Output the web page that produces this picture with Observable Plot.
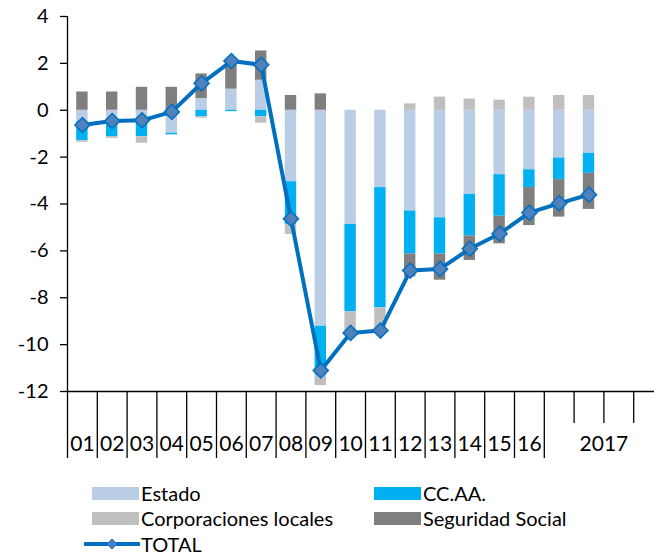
<!DOCTYPE html>
<html>
<head>
<meta charset="utf-8">
<script src="https://cdn.jsdelivr.net/npm/d3@7"></script>
<script src="https://cdn.jsdelivr.net/npm/@observablehq/plot@0.6"></script>
<style>
  body { margin: 0; background: #fff; font-family: Lato, sans-serif; }
  #wrap { position: relative; width: 654px; height: 556px; overflow: hidden; }
  #legend { position: absolute; left: 0; top: 0; width: 654px; height: 556px; pointer-events: none; }
  .item { position: absolute; display: flex; align-items: center; font-size: 20px; color: #000; height: 24px; white-space: nowrap; }
  .sw { display: inline-block; width: 47px; height: 13px; margin-right: 2px; }
</style>
</head>
<body>
<div id="wrap"><div id="chart"></div><div id="legend"></div></div>
<script>
// ---- data ----
const periods = ["2001","2002","2003","2004","2005","2006","2007","2008","2009","2010","2011","2012","2013","2014","2015","2016","2017-I","2017-II"];
const estado      = [-0.50,-0.50,-0.45,-0.98, 0.50, 0.90, 1.28,-3.05,-9.22,-4.87,-3.30,-4.30,-4.59,-3.59,-2.75,-2.54,-2.04,-1.84];
const ccaa        = [-0.80,-0.64,-0.68,-0.07,-0.28,-0.06,-0.28,-1.82,-2.08,-3.73,-5.13,-1.83,-1.54,-1.78,-1.77,-0.76,-0.92,-0.85];
const corpLocales = [-0.07,-0.06,-0.28, 0.00,-0.06, 0.00,-0.27,-0.43,-0.45,-0.90,-0.97, 0.27, 0.56, 0.48, 0.43, 0.56, 0.63, 0.63];
const segSocial   = [ 0.78, 0.78, 0.98, 0.98, 1.05, 1.21, 1.25, 0.63, 0.70, 0.00, 0.00,-0.98,-1.12,-1.04,-1.18,-1.62,-1.60,-1.54];
const total       = [-0.63,-0.46,-0.43,-0.07, 1.15, 2.10, 1.94,-4.63,-11.10,-9.50,-9.40,-6.84,-6.77,-5.91,-5.27,-4.37,-3.97,-3.60];

const seriesNames  = ["Estado","CC.AA.","Corporaciones locales","Seguridad Social"];
const seriesColors = ["#B9CDE5","#00B0F0","#BFBFBF","#7F7F7F"];
const lineColor = "#0070C0";
const markerFill = "#4F81BD";

// x-axis labels: text, first slot, number of slots
const xLabelText  = ["01","02","03","04","05","06","07","08","09","10","11","12","13","14","15","16","2017"];
const xLabelStart = [0,1,2,3,4,5,6,7,8,9,10,11,12,13,14,15,16];
const xLabelSpan  = [1,1,1,1,1,1,1,1,1,1,1,1,1,1,1,1,4];
const yearSeparators = [1,2,3,4,5,6,7,8,9,10,11,12,13,14,15,16];
const quarterTicks = [17,18,19];
const yTicks = [4,2,0,-2,-4,-6,-8,-10,-12];

// ---- build long table ----
const seriesValues = [estado, ccaa, corpLocales, segSocial];
const long = [];
periods.forEach((p, i) => {
  seriesNames.forEach((s, k) => long.push({period: p, i, series: s, value: seriesValues[k][i]}));
});
const totals = total.map((v, i) => ({period: periods[i], i, value: v}));
const xLabels = xLabelText.map((t, k) => ({text: t, start: xLabelStart[k], span: xLabelSpan[k]}));

const chart = Plot.plot({
  width: 654,
  height: 466,
  marginLeft: 67,
  marginRight: 0,
  marginTop: 16,
  marginBottom: 75,
  style: {fontFamily: "Lato, sans-serif", background: "transparent", color: "#000"},
  x: {type: "linear", domain: [0, 20], range: [67, 663], axis: null},
  y: {domain: [-12, 4], label: null},
  color: {domain: seriesNames, range: seriesColors},
  marks: [
    Plot.rectY(long, {x1: d => d.i, x2: d => d.i + 1, y: "value", fill: "series", insetLeft: 9.2, insetRight: 9.2}),
    Plot.axisY({ticks: yTicks, tickFormat: d => String(d), tickSize: 7, tickPadding: 12, fontSize: 20, strokeWidth: 1.3, label: null}),
    Plot.ruleX([0], {y1: 4, y2: -12, strokeWidth: 1.3}),
    Plot.ruleX([0], {y1: -12, y2: -12, insetBottom: -67, strokeWidth: 1.3}),
    Plot.ruleX(yearSeparators, {x: d => d, y1: -12, y2: -12, insetBottom: -67, strokeWidth: 1.3}),
    Plot.ruleX(quarterTicks, {x: d => d, y1: -12, y2: -12, insetBottom: -32, strokeWidth: 1.3}),
    Plot.ruleY([-12], {strokeWidth: 1.3}),
    Plot.text(xLabels, {x: d => d.start + d.span / 2, y: -12, dy: 53, text: "text", fontSize: 21, fill: "#000"}),
    Plot.line(totals, {x: d => d.i + 0.5, y: "value", stroke: lineColor, strokeWidth: 4}),
    Plot.dot(totals, {x: d => d.i + 0.5, y: "value", symbol: "diamond2", r: 6.8, fill: markerFill, stroke: lineColor, strokeWidth: 1.5})
  ]
});
document.getElementById("chart").appendChild(chart);

// ---- legend ----
const legend = document.getElementById("legend");
const legendItems = [
  {name: seriesNames[0], color: seriesColors[0], left: 92, cy: 493},
  {name: seriesNames[1], color: seriesColors[1], left: 374, cy: 493},
  {name: seriesNames[2], color: seriesColors[2], left: 92, cy: 518},
  {name: seriesNames[3], color: seriesColors[3], left: 374, cy: 518}
];
legendItems.forEach(it => {
  const div = document.createElement("div");
  div.className = "item";
  div.style.left = it.left + "px";
  div.style.top = (it.cy - 12) + "px";
  div.innerHTML = `<span class="sw" style="background:${it.color}"></span><span>${it.name}</span>`;
  legend.appendChild(div);
});
const tot = document.createElement("div");
tot.className = "item";
tot.style.left = "84px";
tot.style.top = (544 - 12) + "px";
tot.innerHTML = `<svg width="56" height="16" style="margin-right:1px"><line x1="1" y1="8" x2="55" y2="8" stroke="${lineColor}" stroke-width="4" stroke-linecap="round"/><path d="M28 3 L33 8 L28 13 L23 8 Z" fill="${markerFill}" stroke="${lineColor}" stroke-width="1"/></svg><span>TOTAL</span>`;
legend.appendChild(tot);
</script>
</body>
</html>
